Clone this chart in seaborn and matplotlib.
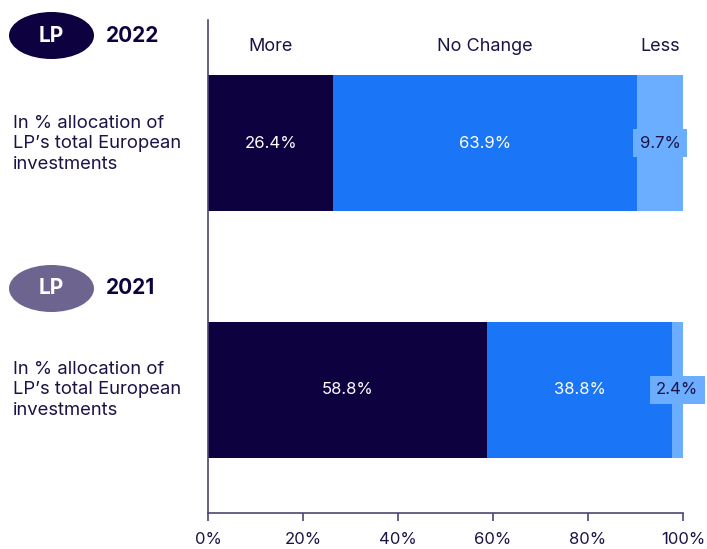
import numpy as np
import pandas as pd
import matplotlib
matplotlib.use("Agg")
import matplotlib.pyplot as plt
import matplotlib.transforms as mtransforms
from matplotlib.patches import Ellipse
import seaborn as sns

# ---- data ----
years = ["2022", "2021"]
segments = ["More", "No Change", "Less"]
more = [26.4, 58.8]
no_change = [63.9, 38.8]
less = [9.7, 2.4]
x_ticks = [0, 20, 40, 60, 80, 100]
x_tick_labels = ["0%", "20%", "40%", "60%", "80%", "100%"]
badge_text = "LP"
desc_lines = ["In % allocation of", "LP\u2019s total European", "investments"]

# ---- style ----
NAVY = "#0d0140"
BLUE = "#1a76f6"
LIGHT = "#6badff"
BADGE2 = "#6d6590"
TEXT = "#1a1446"
SPINE = "#4d4672"

sns.set_style("white")
plt.rcParams["font.family"] = ["Inter", "DejaVu Sans"]

df = pd.DataFrame({"year": years, "More": more, "No Change": no_change, "Less": less})
df["c_more"] = df["More"]
df["c_nc"] = df["More"] + df["No Change"]
df["c_less"] = df["c_nc"] + df["Less"]

W, H = 707, 549
fig = plt.figure(figsize=(W / 100, H / 100), dpi=100)
ax = fig.add_axes([208 / W, (H - 513) / H, 475 / W, 493 / H])

bw = 0.55
for col, color in [("c_less", LIGHT), ("c_nc", BLUE), ("c_more", NAVY)]:
    sns.barplot(data=df, x=col, y="year", order=years, color=color, saturation=1,
                width=bw, orient="h", errorbar=None, linewidth=0, ax=ax)

ax.set_xlim(0, 100)
ax.set_ylim(1.5, -0.5)
ax.set_xlabel("")
ax.set_ylabel("")
ax.set_yticks([])
ax.set_xticks(x_ticks)
ax.set_xticklabels(x_tick_labels)
ax.tick_params(axis="x", direction="out", length=6, width=1.2, color=SPINE,
               labelsize=12, labelcolor=TEXT, pad=8, bottom=True)
for s in ["top", "right"]:
    ax.spines[s].set_visible(False)
for s in ["left", "bottom"]:
    ax.spines[s].set_color(SPINE)
    ax.spines[s].set_linewidth(1.2)

# value labels
for i in range(len(years)):
    m, n, l = more[i], no_change[i], less[i]
    ax.text(m / 2, i, f"{m}%", ha="center", va="center", color="white", fontsize=12)
    ax.text(m + n / 2, i, f"{n}%", ha="center", va="center", color="white", fontsize=12)
    ax.text(m + n + l / 2, i, f"{l}%", ha="center", va="center", color=TEXT, fontsize=12,
            bbox=dict(boxstyle="square,pad=0.38", facecolor=LIGHT, edgecolor="none"))

# overlay in pixel coordinates
ov = fig.add_axes([0, 0, 1, 1], facecolor="none")
ov.set_xlim(0, W)
ov.set_ylim(H, 0)
ov.axis("off")

# column headers centered on 2022 segments
bt = mtransforms.blended_transform_factory(ax.transData, ov.transData)
starts = [0, more[0], more[0] + no_change[0]]
widths = [more[0], no_change[0], less[0]]
for name, s0, w in zip(segments, starts, widths):
    ov.text(s0 + w / 2, 46.5, name, transform=bt, ha="center", va="center",
            fontsize=13, color=TEXT)

# badges and descriptions
badge_y = [35.5, 288.5]
badge_colors = [NAVY, BADGE2]
desc_base = [[128, 148.5, 169], [374, 394.5, 415]]
for yr, by, bc, bases in zip(years, badge_y, badge_colors, desc_base):
    ov.add_patch(Ellipse((51.5, by), 85, 47, facecolor=bc, edgecolor="none"))
    ov.text(51.5, by, badge_text, ha="center", va="center", color="white",
            fontsize=15, fontweight="bold")
    ov.text(106, by, yr, ha="left", va="center", color=NAVY, fontsize=15,
            fontweight="bold")
    for line, yb in zip(desc_lines, bases):
        ov.text(13, yb, line, ha="left", va="baseline", color=TEXT, fontsize=13.3)

fig.savefig("out.png", dpi=100)
